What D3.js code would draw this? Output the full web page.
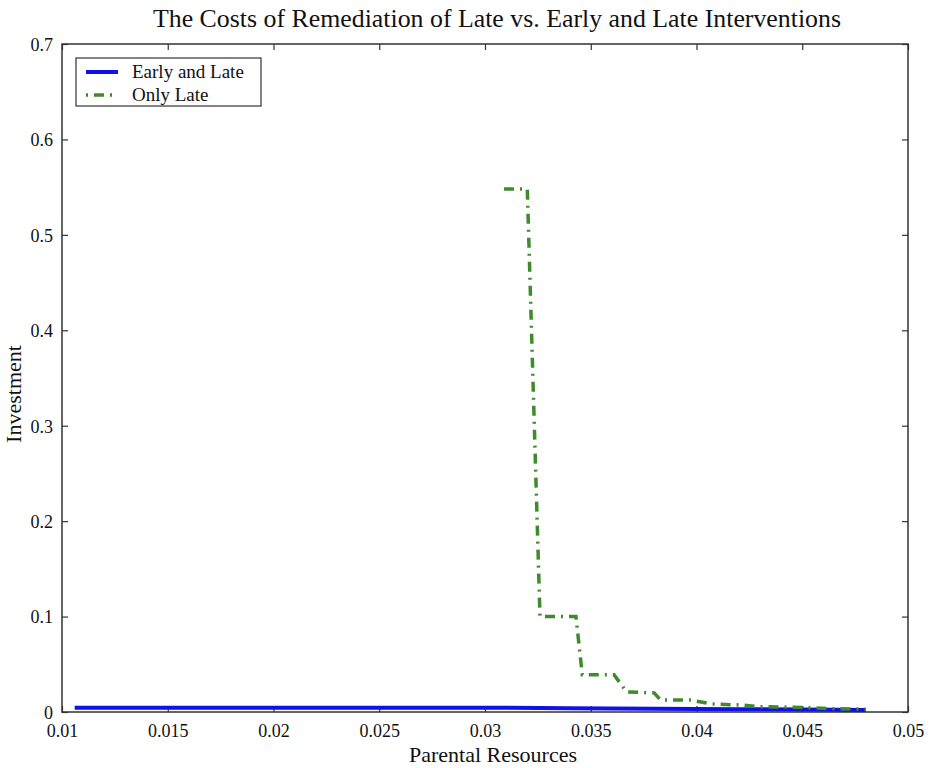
<!DOCTYPE html>
<html><head><meta charset="utf-8">
<script src="https://cdn.jsdelivr.net/npm/d3@7"></script>
<style>body{margin:0;background:#fff}svg{display:block}text{font-family:"Liberation Serif","Times New Roman",serif;fill:#111}</style>
</head><body><svg id="c" width="931" height="768"></svg>
<script>
const title = "The Costs of Remediation of Late vs. Early and Late Interventions";
const xLabel = "Parental Resources";
const yLabel = "Investment";
const xTicks = [0.01,0.015,0.02,0.025,0.03,0.035,0.04,0.045,0.05];
const yTicks = [0,0.1,0.2,0.3,0.4,0.5,0.6,0.7];
const seriesNames = ["Early and Late","Only Late"];
const earlyX = [0.0106,0.015,0.02,0.025,0.03,0.034,0.038,0.042,0.045,0.048];
const earlyY = [0.0045,0.0045,0.0045,0.0045,0.0045,0.0040,0.0035,0.0030,0.0027,0.0022];
const lateX = [0.0309,0.0320,0.0326,0.0343,0.0346,0.0361,0.0367,0.0380,0.0383,0.0397,0.0407,0.0421,0.0430,0.0446,0.0465,0.0480];
const lateY = [0.548,0.548,0.100,0.100,0.039,0.039,0.021,0.020,0.0126,0.0126,0.0085,0.0073,0.0055,0.0050,0.0035,0.0030];

const svg = d3.select("#c");
const L=62,R=908,T=44,B=712;
const x = d3.scaleLinear().domain([0.01,0.05]).range([L,R]);
const y = d3.scaleLinear().domain([0,0.7]).range([B,T]);

svg.append("rect").attr("x",L).attr("y",T).attr("width",R-L).attr("height",B-T)
  .attr("fill","none").attr("stroke","#333").attr("stroke-width",1.5);

const fmt = d=>d===0?"0":String(d);
const gx = svg.append("g").attr("transform",`translate(0,${B})`)
  .call(d3.axisBottom(x).tickValues(xTicks).tickFormat(fmt).tickSizeInner(-6).tickSizeOuter(0));
const gxt = svg.append("g").attr("transform",`translate(0,${T})`)
  .call(d3.axisTop(x).tickValues(xTicks).tickFormat("").tickSizeInner(-6).tickSizeOuter(0));
const gy = svg.append("g").attr("transform",`translate(${L},0)`)
  .call(d3.axisLeft(y).tickValues(yTicks).tickFormat(fmt).tickSizeInner(-6).tickSizeOuter(0).tickPadding(9));
const gyr = svg.append("g").attr("transform",`translate(${R},0)`)
  .call(d3.axisRight(y).tickValues(yTicks).tickFormat("").tickSizeInner(-6).tickSizeOuter(0));
[gx,gxt,gy,gyr].forEach(g=>{g.select(".domain").remove();g.selectAll(".tick line").attr("stroke","#333").attr("stroke-width",1.2);
  g.selectAll("text").style("font-family","'Liberation Serif',serif").style("font-size","18px").attr("fill","#111");});
gx.selectAll("text").attr("y",25).attr("dy",0);
gy.selectAll("text").attr("dy","0.35em");

const line = d3.line().x(d=>x(d[0])).y(d=>y(d[1]));
svg.append("path").datum(earlyX.map((v,i)=>[v,earlyY[i]])).attr("d",line)
  .attr("fill","none").attr("stroke","#1010e8").attr("stroke-width",4);
svg.append("path").datum(lateX.map((v,i)=>[v,lateY[i]])).attr("d",line)
  .attr("fill","none").attr("stroke","#3f8a2a").attr("stroke-width",3.5)
  .attr("stroke-dasharray","10,6,2,6");

svg.append("text").attr("x",497).attr("y",27).attr("text-anchor","middle").style("font-size","26px")
  .attr("textLength",688).attr("lengthAdjust","spacingAndGlyphs").text(title);
svg.append("text").attr("x",493).attr("y",762).attr("text-anchor","middle").style("font-size","22px").text(xLabel);
svg.append("text").attr("transform","translate(21,394) rotate(-90)").attr("text-anchor","middle").style("font-size","22px").text(yLabel);

const lg = svg.append("g");
lg.append("rect").attr("x",76).attr("y",58).attr("width",185).attr("height",48).attr("fill","#fff").attr("stroke","#333").attr("stroke-width",1.2);
lg.append("line").attr("x1",86).attr("x2",118).attr("y1",72).attr("y2",72).attr("stroke","#1010e8").attr("stroke-width",4);
lg.append("line").attr("x1",86).attr("x2",118).attr("y1",95).attr("y2",95).attr("stroke","#3f8a2a").attr("stroke-width",3.5).attr("stroke-dasharray","2,6,10,6,2,6");
lg.append("text").attr("x",132).attr("y",78).style("font-size","19px").text(seriesNames[0]);
lg.append("text").attr("x",132).attr("y",101).style("font-size","19px").text(seriesNames[1]);
</script></body></html>
